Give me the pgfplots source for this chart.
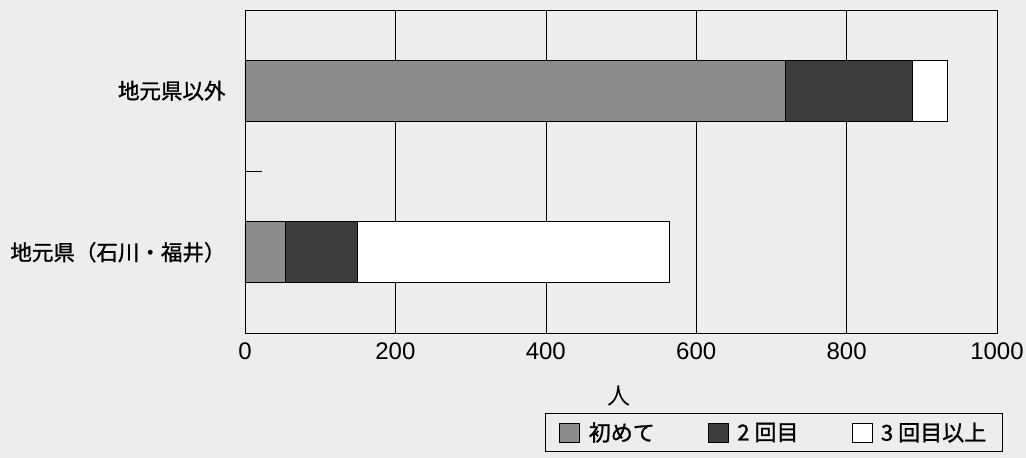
\documentclass[border=0pt]{standalone}
\usepackage{pgfplots}
\pgfplotsset{compat=1.18}
\usepackage{fontspec}
\setmainfont{Liberation Sans}
\newfontfamily\jp{Noto Sans CJK JP}
\newfontfamily\jpm[FakeBold=1.2]{Noto Sans CJK JP}
\usetikzlibrary{backgrounds,calc}
\definecolor{bg}{HTML}{EDEDED}
\definecolor{cA}{HTML}{8C8C8C}
\definecolor{cB}{HTML}{3C3C3C}
\begin{document}
\begin{tikzpicture}
\begin{axis}[
  scale only axis, width=752bp, height=323bp,
  xbar stacked, bar width=0.378,
  xmin=0, xmax=1000, ymin=-0.5, ymax=1.5,
  xtick={0,200,400,600,800,1000},
  xticklabel style={/pgf/number format/1000 sep={}},
  xmajorgrids, grid style={black, line width=0.6pt},
  axis line style={black, line width=0.8pt},
  ytick={0,1},
  yticklabels={{\jpm 地元県（石川・福井）},{\jpm 地元県以外}},
  major tick length=0pt,
  xtick pos=bottom, ytick pos=left,
  /pgf/number format/assume math mode=true,
  x tick label style={font=\fontsize{24bp}{24bp}\selectfont, yshift=-6bp},
  y tick label style={font=\fontsize{21.5bp}{22bp}\selectfont, xshift=-16bp},
  extra y ticks={0.5}, extra y tick labels={},
  extra y tick style={major tick length=17bp, tick align=inside, tick style={black, line width=0.6pt}},
  xlabel={\jp 人},
  xlabel style={at={(axis description cs:0.497,-0.196)}, anchor=center, font=\fontsize{23bp}{23bp}\selectfont},
  legend columns=3,
  legend style={at={(0.399,-0.248)}, anchor=north west, draw=black, line width=0.6pt, fill=none,
    font=\jpm\fontsize{22bp}{24bp}\selectfont, inner xsep=14bp, inner ysep=7bp,
    /tikz/every odd column/.append style={column sep=7bp},
    /tikz/every even column/.append style={column sep=51bp}},
  legend image code/.code={\draw[#1, draw=black, line width=0.5pt] (0bp,-9.5bp) rectangle (20bp,9.5bp);},
]
\addplot[fill=cA, draw=black, line width=0.6pt] coordinates {(54,0) (719,1)};
\addplot[fill=cB, draw=black, line width=0.6pt] coordinates {(95,0) (168,1)};
\addplot[fill=white, draw=black, line width=0.6pt] coordinates {(415,0) (47,1)};
\legend{初めて, 2\hspace{5bp}回目, 3\hspace{5bp}回目以上}
\end{axis}
\pgfresetboundingbox
\path[use as bounding box] ($(current axis.south west)+(-245bp,-125bp)$) rectangle ($(current axis.north east)+(29bp,10bp)$);
\begin{scope}[on background layer]
\fill[bg] ($(current axis.south west)+(-245bp,-125bp)$) rectangle ($(current axis.north east)+(29bp,10bp)$);
\end{scope}
\end{tikzpicture}
\end{document}
